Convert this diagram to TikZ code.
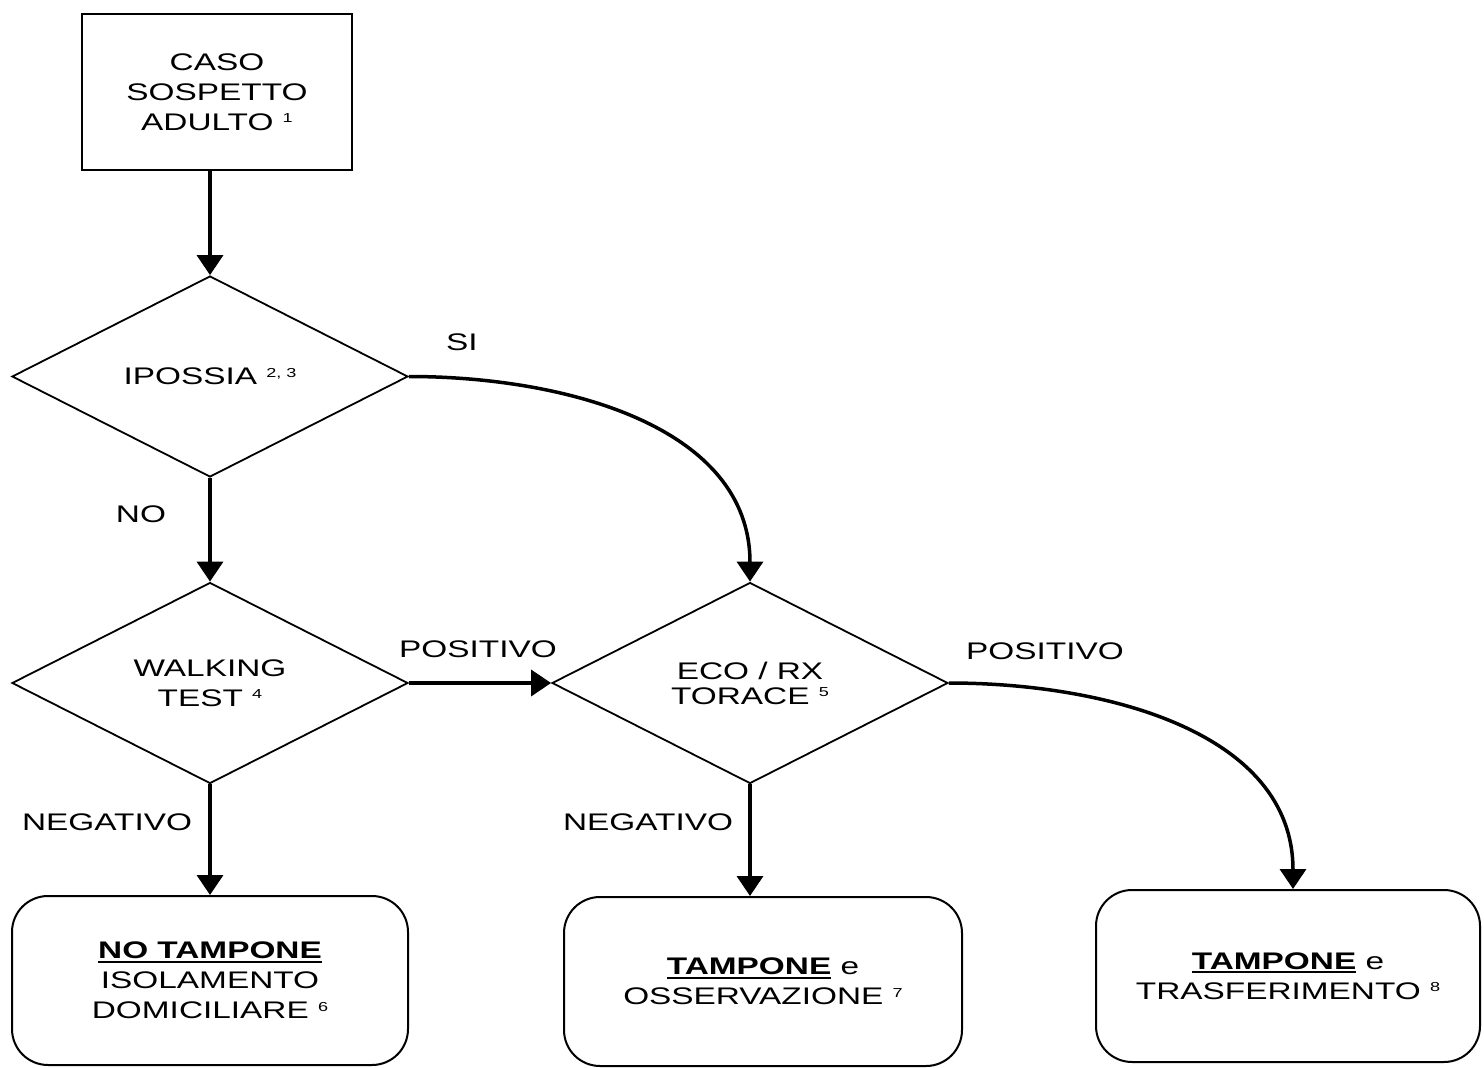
\documentclass[tikz,border=0pt]{standalone}
\usepackage{fontspec}
\setmainfont{Liberation Sans}[FakeStretch=1.39]
\usetikzlibrary{shapes.geometric,arrows.meta}
\newsavebox{\ulbox}
\newcommand{\fnote}[1]{\ \raisebox{0.6ex}{\fontsize{13}{13}\selectfont #1}}
\newcommand{\ulbf}[1]{\sbox{\ulbox}{\textbf{#1}}\rlap{\rule[-4pt]{\wd\ulbox}{1.8pt}}\usebox{\ulbox}}
\tikzset{
  flow/.style={-{Triangle[length=20pt,width=26pt]}, line width=3.5pt},
  startbox/.style={draw, line width=2pt, minimum width=270pt, minimum height=156pt, align=center, inner sep=0pt},
  decision/.style={diamond, draw, line width=1.8pt, shape aspect=2, minimum width=396pt, minimum height=201pt, align=center, inner sep=0pt},
  outcome/.style={draw, line width=2pt, rounded corners=36pt, minimum height=169pt, align=center, inner sep=0pt},
  lbl/.style={inner sep=0pt}
}
\begin{document}
\begin{tikzpicture}[x=1pt, y=1pt, font=\fontsize{24}{30}\selectfont]
\useasboundingbox (0,0) rectangle (1484,-1068);
% steps
\node[startbox] (case) at (217,-92) {CASO\\SOSPETTO\\ADULTO\fnote{1}};
\node[decision] (ips) at (210,-376.5) {IPOSSIA\fnote{2, 3}};
\node[decision] (walk) at (210,-683) {WALKING\\TEST\fnote{4}};
\node[decision] (eco) at (750,-683) {ECO / RX\\[-5pt]TORACE\fnote{5}};
\node[outcome, minimum width=396pt] (home) at (210,-980.5) {\ulbf{NO TAMPONE}\\ISOLAMENTO\\DOMICILIARE\fnote{6}};
\node[outcome, minimum width=398pt] (obs) at (763,-981.5) {\ulbf{TAMPONE} e\\OSSERVAZIONE\fnote{7}};
\node[outcome, minimum width=384pt, minimum height=172pt] (trans) at (1288,-976) {\ulbf{TAMPONE} e\\TRASFERIMENTO\fnote{8}};
% answers
\node[lbl] (si) at (462,-342) {SI};
\node[lbl] (no) at (141,-514) {NO};
\node[lbl] (posw) at (478,-649) {POSITIVO};
\node[lbl] (pose) at (1045,-651) {POSITIVO};
\node[lbl] (negw) at (107,-822) {NEGATIVO};
\node[lbl] (nege) at (648,-822) {NEGATIVO};
% connectors
\draw[flow] (case.south -| ips.north) -- (ips.north);
\draw[flow] (ips.south) -- (walk.north);
\draw[flow] (ips.east) to[out=0, in=90] (eco.north);
\draw[flow] (walk.east) -- (eco.west);
\draw[flow] (walk.south) -- (walk.south |- home.north);
\draw[flow] (eco.south) -- (eco.south |- obs.north);
\draw[flow] (eco.east) to[out=0, in=90] ([xshift=5pt]trans.north);
\end{tikzpicture}
\end{document}
